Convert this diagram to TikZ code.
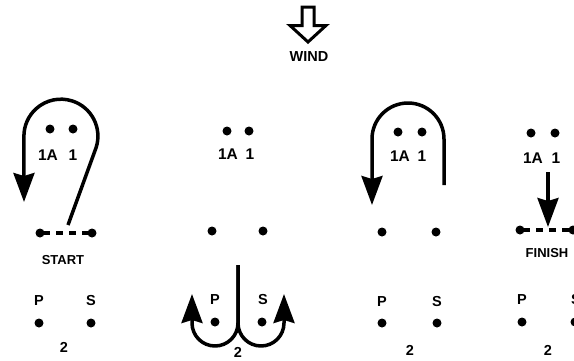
\documentclass[tikz,border=0pt]{standalone}
\usepackage{fontspec}
\setmainfont{Liberation Sans}
\usetikzlibrary{arrows.meta}
\begin{document}
\begin{tikzpicture}[x=1pt,y=1pt,
  dot/.style={circle,fill=black,inner sep=0pt,minimum size=9pt},
  lbl/.style={font=\fontsize{15.5}{17}\selectfont\bfseries,inner sep=0pt},
  pslbl/.style={font=\fontsize{14.5}{16}\selectfont\bfseries,inner sep=0pt},
  smalllbl/.style={font=\fontsize{13}{15}\selectfont\bfseries,inner sep=0pt},
  route/.style={line width=3.5pt,line join=round},
  bigarrow/.style={-{Stealth[length=29pt,width=21pt,inset=3pt]}},
  dashline/.style={line width=3.5pt,dash pattern=on 7pt off 6pt,dash phase=10pt},
  windarrow/.style={line width=3pt,line join=miter}]
\useasboundingbox (0,0) rectangle (574,-360);
\clip (0,0) rectangle (574,-360);
% wind
\draw[windarrow] (302,-7) -- (314,-7) -- (314,-25.5) -- (326,-25.5) -- (308,-42) -- (290,-25.5) -- (302,-25.5) -- cycle;
\node[font=\fontsize{14.5}{17}\selectfont\bfseries,inner sep=0pt] (wind) at (309,-57) {WIND};
% panel 1
\node[dot] (p1t1) at (50,-129) {};
\node[dot] (p1t2) at (73,-129) {};
\node[lbl] (p1la) at (48,-155) {1A};
\node[lbl] (p1lb) at (73,-155) {1};
\node[dot] (p1m1) at (40,-233) {};
\node[dot] (p1m2) at (92,-233) {};
\draw[dashline] (p1m1.center) -- (p1m2.center);
\node[smalllbl] (start) at (63,-260) {START};
\node[pslbl] (p1P) at (39,-301) {P};
\node[pslbl] (p1S) at (91,-301) {S};
\node[dot] (p1b1) at (39,-323) {};
\node[dot] (p1b2) at (91,-323) {};
\node[pslbl] (p1n) at (64,-347) {2};
\coordinate (p1s) at (68,-225);
\coordinate (p1e) at (24,-202);
\draw[route,bigarrow] (p1s) -- (96.1,-147.6) arc[start angle=-18,end angle=180,radius=37] -- (p1e);
% panel 2
\node[dot] (p2t1) at (227,-131) {};
\node[dot] (p2t2) at (249,-131) {};
\node[lbl] (p2la) at (228,-154) {1A};
\node[lbl] (p2lb) at (250,-154) {1};
\node[dot] (p2m1) at (212,-231) {};
\node[dot] (p2m2) at (263,-231) {};
\node[pslbl] (p2P) at (215,-300) {P};
\node[pslbl] (p2S) at (263,-300) {S};
\node[dot] (p2b1) at (215,-322) {};
\node[dot] (p2b2) at (262,-322) {};
\node[pslbl] (p2n) at (238,-352) {2};
\coordinate (p2s) at (238,-265);
\coordinate (p2j) at (238,-323);
\coordinate (p2e1) at (192,-294);
\coordinate (p2e2) at (284,-294);
\draw[route,bigarrow] (p2s) -- (p2j) arc[start angle=0,end angle=-180,radius=23] -- (p2e1);
\draw[route,bigarrow] (p2s) -- (p2j) arc[start angle=180,end angle=360,radius=23] -- (p2e2);
% panel 3
\node[dot] (p3t1) at (398,-132) {};
\node[dot] (p3t2) at (422,-132) {};
\node[lbl] (p3la) at (400,-156) {1A};
\node[lbl] (p3lb) at (422,-156) {1};
\node[dot] (p3m1) at (382,-232) {};
\node[dot] (p3m2) at (436,-232) {};
\node[pslbl] (p3P) at (382,-302) {P};
\node[pslbl] (p3S) at (437,-302) {S};
\node[dot] (p3b1) at (382,-323) {};
\node[dot] (p3b2) at (437,-323) {};
\node[pslbl] (p3n) at (410,-350) {2};
\coordinate (p3s) at (444,-185);
\coordinate (p3e) at (372,-205);
\draw[route,bigarrow] (p3s) -- (444,-139) arc[start angle=0,end angle=180,radius=36] -- (p3e);
% panel 4
\node[dot] (p4t1) at (531,-133) {};
\node[dot] (p4t2) at (555,-133) {};
\node[lbl] (p4la) at (533,-158) {1A};
\node[lbl] (p4lb) at (556,-158) {1};
\node[dot] (p4m1) at (520,-230) {};
\node[dot] (p4m2) at (573,-230) {};
\draw[dashline] (p4m1.center) -- (p4m2.center);
\node[smalllbl] (finish) at (547,-253) {FINISH};
\node[pslbl] (p4P) at (522,-300) {P};
\node[pslbl] (p4S) at (576,-300) {S};
\node[dot] (p4b1) at (522,-322) {};
\node[dot] (p4b2) at (575,-322) {};
\node[pslbl] (p4n) at (548,-350) {2};
\coordinate (p4s) at (548,-172);
\coordinate (p4e) at (548,-227);
\draw[route,bigarrow] (p4s) -- (p4e);
\end{tikzpicture}
\end{document}
